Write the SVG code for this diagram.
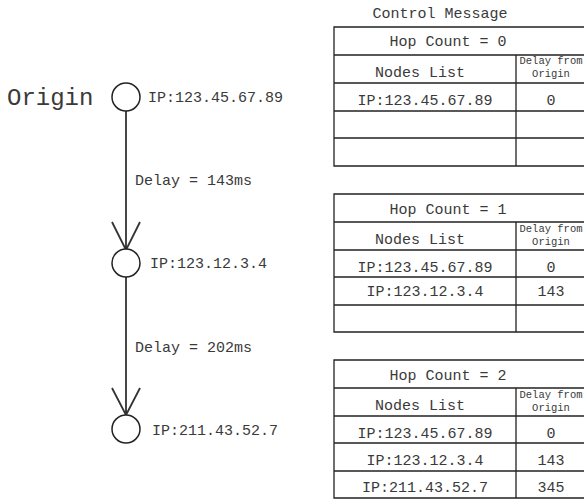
<svg xmlns="http://www.w3.org/2000/svg" width="584" height="500" viewBox="0 0 584 500">
<style>
text{font-family:"Liberation Mono","Courier New",monospace;fill:#3a3a3a;font-size:15px}
.big{font-size:24px}
.sm{font-size:10.5px}
.c{text-anchor:middle}
.node{fill:#fff;stroke:#222;stroke-width:1.5}
.edge{fill:none;stroke:#333;stroke-width:1.8}
.tb{fill:none;stroke:#222;stroke-width:1.3}
</style>
<rect width="584" height="500" fill="#fff"/>
<g id="connectors">
<path class="edge" d="M126 111V249M112 222L126 250L140 222"/>
<path class="edge" d="M126 277V415M112 388L126 415L140 388"/>
<text x="135" y="185">Delay = 143ms</text>
<text x="135" y="352">Delay = 202ms</text>
</g>
<g id="origin">
<text class="big" x="7" y="105">Origin</text>
<circle class="node" cx="126" cy="97" r="14"/>
<text x="148" y="102">IP:123.45.67.89</text>
</g>
<g id="node2">
<circle class="node" cx="126" cy="263" r="14"/>
<text x="150" y="268">IP:123.12.3.4</text>
</g>
<g id="node3">
<circle class="node" cx="126" cy="429" r="14"/>
<text x="152" y="435">IP:211.43.52.7</text>
</g>
<g id="table0">
<text class="c" x="440" y="18">Control Message</text>
<path class="tb" d="M586 27H334V166H586M334 55H586M334 83H586M334 111H586M334 138H586M516 55V166"/>
<text class="c" x="448" y="46">Hop Count = 0</text>
<text class="c" x="420" y="77">Nodes List</text>
<text class="sm c" x="551" y="64">Delay from</text>
<text class="sm c" x="551" y="77">Origin</text>
<text class="c" x="425" y="105">IP:123.45.67.89</text>
<text class="c" x="551" y="105">0</text>
</g>
<g id="table1">
<path class="tb" d="M586 194H334V332H586M334 222H586M334 250H586M334 277H586M334 305H586M516 222V332"/>
<text class="c" x="448" y="214">Hop Count = 1</text>
<text class="c" x="420" y="244">Nodes List</text>
<text class="sm c" x="551" y="232">Delay from</text>
<text class="sm c" x="551" y="245">Origin</text>
<text class="c" x="425" y="272">IP:123.45.67.89</text>
<text class="c" x="551" y="272">0</text>
<text class="c" x="425" y="296">IP:123.12.3.4</text>
<text class="c" x="551" y="296">143</text>
</g>
<g id="table2">
<path class="tb" d="M586 360H334V498H586M334 388H586M334 416H586M334 443H586M334 471H586M516 388V498"/>
<text class="c" x="448" y="380">Hop Count = 2</text>
<text class="c" x="420" y="410">Nodes List</text>
<text class="sm c" x="551" y="398">Delay from</text>
<text class="sm c" x="551" y="411">Origin</text>
<text class="c" x="425" y="438">IP:123.45.67.89</text>
<text class="c" x="551" y="438">0</text>
<text class="c" x="425" y="465">IP:123.12.3.4</text>
<text class="c" x="551" y="465">143</text>
<text class="c" x="425" y="492">IP:211.43.52.7</text>
<text class="c" x="551" y="492">345</text>
</g>
</svg>
